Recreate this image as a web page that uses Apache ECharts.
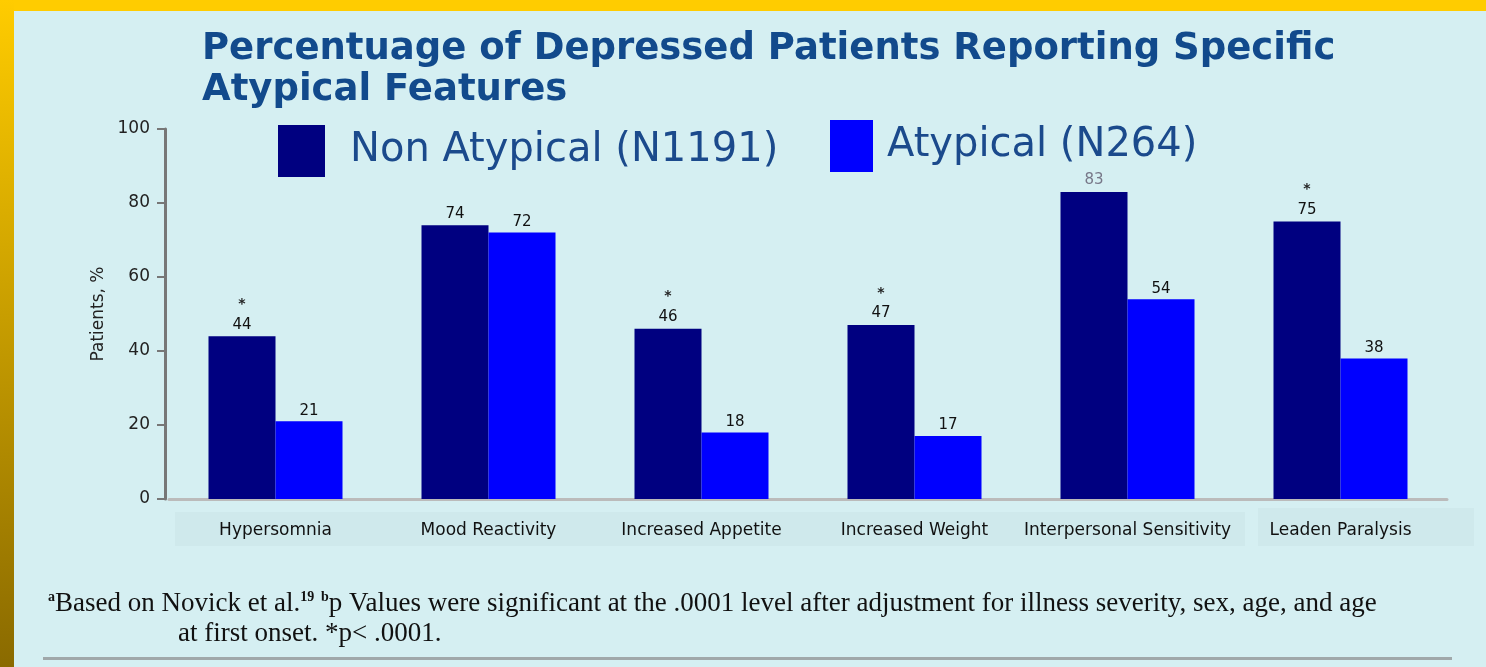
<!DOCTYPE html>
<html><head><meta charset="utf-8">
<script src="https://cdn.jsdelivr.net/npm/echarts@6/dist/echarts.min.js"></script>
<style>html,body{margin:0;padding:0;background:#D5EFF2}#c{width:1486px;height:667px}</style>
</head><body><div id="c"></div>
<script>
const categories = ['Hypersomnia', 'Mood Reactivity', 'Increased Appetite', 'Increased Weight', 'Interpersonal Sensitivity', 'Leaden Paralysis'];
const nonAtypical = [44, 74, 46, 47, 83, 75];
const atypical = [21, 72, 18, 17, 54, 38];
const significant = [true, false, true, true, false, true];
const yTicks = [0, 20, 40, 60, 80, 100];
const seriesNames = ['Non Atypical (N1191)', 'Atypical (N264)'];

const chart = echarts.init(document.getElementById('c'), null, {renderer: 'canvas'});
const sans = 'DejaVu Sans';

chart.setOption({
  backgroundColor: '#D5EFF2',
  animation: false,
  title: {
    text: 'Percentuage of Depressed Patients Reporting Specific\nAtypical Features',
    left: 197, top: 24,
    textStyle: {fontFamily: sans, fontWeight: 'bold', fontSize: 37, color: '#124A8C', lineHeight: 41}
  },
  legend: [
    {data: [seriesNames[0]], left: 273, top: 120, itemWidth: 47, itemHeight: 52, itemGap: 0, icon: 'rect',
     textStyle: {fontFamily: sans, fontSize: 40, color: '#1B4A8C', padding: [6, 0, 0, 20]}},
    {data: [seriesNames[1]], left: 825, top: 115, itemWidth: 43, itemHeight: 52, itemGap: 0, icon: 'rect',
     textStyle: {fontFamily: sans, fontSize: 40, color: '#1B4A8C', padding: [4, 0, 0, 9]}}
  ],
  grid: {left: 169, right: 39, top: 129, bottom: 168, containLabel: false},
  xAxis: {
    type: 'category', data: categories,
    axisLine: {lineStyle: {color: '#BBBBBB', width: 3}},
    axisTick: {show: false},
    axisLabel: {fontFamily: sans, fontSize: 17, color: '#111', margin: 23, interval: 0, hideOverlap: false}
  },
  yAxis: {
    type: 'value', min: 0, max: 100, interval: 20, offset: 4,
    name: 'Patients, %', nameLocation: 'middle', nameGap: 56, nameRotate: 90,
    nameTextStyle: {fontFamily: sans, fontSize: 17, color: '#222'},
    axisLine: {show: true, lineStyle: {color: '#777777', width: 3}},
    axisTick: {show: true, inside: false, length: 8, lineStyle: {color: '#777', width: 2}},
    splitLine: {show: false},
    axisLabel: {fontFamily: sans, fontSize: 17, color: '#222', margin: 15,
      formatter: v => yTicks.includes(v) ? String(v) : ''}
  },
  series: [
    {
      name: seriesNames[0], type: 'bar', barWidth: 67, barGap: '0%',
      itemStyle: {color: '#000080'},
      data: nonAtypical.map((v, i) => ({
        value: v,
        label: {color: i === 4 ? '#777788' : '#111'}
      })),
      label: {
        show: true, position: 'top', distance: 3,
        fontFamily: sans, fontSize: 15, color: '#111',
        formatter: p => significant[p.dataIndex] ? '{s|*}\n{v|' + p.value + '}' : '{v|' + p.value + '}',
        rich: {
          s: {fontSize: 14, fontWeight: 'bold', color: '#222', lineHeight: 24},
          v: {fontSize: 15, lineHeight: 17}
        }
      }
    },
    {
      name: seriesNames[1], type: 'bar', barWidth: 67, barGap: '0%',
      itemStyle: {color: '#0000FF'},
      data: atypical,
      label: {show: true, position: 'top', distance: 3, fontFamily: sans, fontSize: 15, color: '#111'}
    }
  ],
  graphic: [
    {type: 'rect', z: -1, shape: {x: 0, y: 0, width: 1486, height: 11}, style: {fill: '#FFCC00'}},
    {type: 'rect', z: -1, shape: {x: 0, y: 0, width: 14, height: 667},
     style: {fill: new echarts.graphic.LinearGradient(0, 0, 0, 1, [{offset: 0, color: '#FFCC00'}, {offset: 1, color: '#8A6A00'}])}},
    {type: 'rect', z: -2, shape: {x: 175, y: 512, width: 1070, height: 34}, style: {fill: '#CFE9EC'}},
    {type: 'rect', z: -2, shape: {x: 1258, y: 508, width: 216, height: 38}, style: {fill: '#CFE9EC'}},
    {type: 'text', left: 48, top: 590,
     style: {
       text: '{sup|a}Based on Novick et al.{sup|19} {sup|b}p Values were significant at the .0001 level after adjustment for illness severity, sex, age, and age',
       fontFamily: 'Liberation Serif', fontSize: 27, fill: '#111',
       rich: {sup: {fontSize: 14, fontWeight: 'bold', fontFamily: 'Liberation Serif', padding: [0, 0, 13, 0], fill: '#111'}}
     }},
    {type: 'text', left: 178, top: 620,
     style: {text: 'at first onset. *p< .0001.', fontFamily: 'Liberation Serif', fontSize: 27, fill: '#111'}},
    {type: 'rect', shape: {x: 43, y: 657, width: 1409, height: 3}, style: {fill: '#A0A8AA'}}
  ]
});
</script>
</body></html>
